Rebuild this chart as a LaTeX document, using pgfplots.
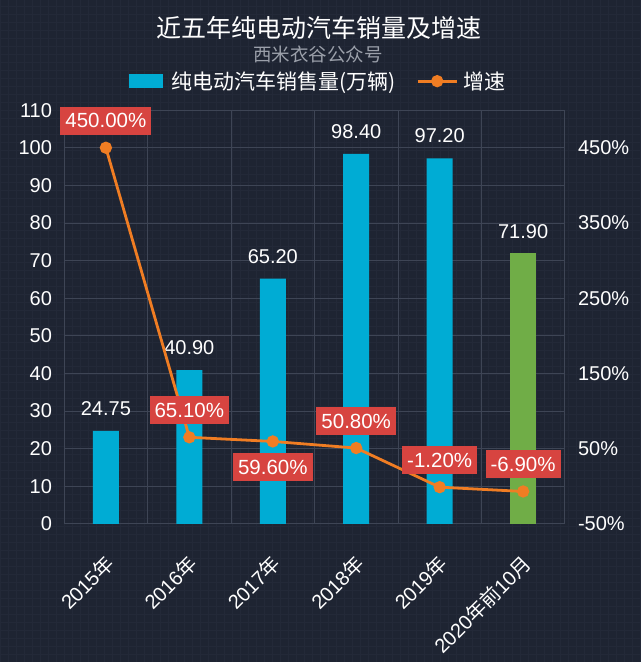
\documentclass[border=0pt]{standalone}
\usepackage{pgfplots}
\pgfplotsset{compat=1.18}
\usepackage{fontspec}
\setmainfont{Liberation Sans}
\newfontfamily\cjk{Noto Sans CJK SC}

\definecolor{bg}{RGB}{30,36,50}
\definecolor{bgline}{RGB}{35,41,56}
\definecolor{gridc}{RGB}{62,69,85}
\definecolor{barblue}{RGB}{0,172,212}
\definecolor{bargreen}{RGB}{112,173,71}
\definecolor{lineorange}{RGB}{240,125,35}
\definecolor{boxred}{RGB}{215,68,64}
\definecolor{subgray}{RGB}{155,160,170}

\newcommand\fs[1]{\fontsize{#1}{#1}\selectfont}

\begin{document}
\begin{tikzpicture}[x=1pt,y=1pt]
% page background, with the faint texture of the original
\fill[bg] (0,0) rectangle (640,662);
\draw[bgline, line width=0.4pt, step=8] (0,0) grid (640,662);
\path[use as bounding box] (0,0) rectangle (640,662);

\node[white, font=\cjk\fs{25}] at (319,634) {近五年纯电动汽车销量及增速};
\node[subgray, font=\cjk\fs{18.5}] at (318,608) {西米衣谷公众号};

% left axis: sales in 10k vehicles
\begin{axis}[
  at={(64pt,138pt)}, anchor=south west,
  scale only axis, width=501pt, height=414pt,
  xmin=-0.5, xmax=5.5, ymin=0, ymax=110,
  xtick={0,...,5},
  xticklabels={2015{\cjk 年},2016{\cjk 年},2017{\cjk 年},2018{\cjk 年},2019{\cjk 年},2020{\cjk 年前}10{\cjk 月}},
  minor xtick={0.5,1.5,2.5,3.5,4.5},
  ytick={0,10,...,110},
  xminorgrids, ymajorgrids,
  grid style={gridc, line width=0.8pt},
  minor grid style={gridc, line width=0.8pt},
  axis line style={gridc, line width=0.8pt},
  tick style={draw=none},
  /pgf/number format/assume math mode=true,
  ticklabel style={white, font=\fs{20}},
  yticklabel style={anchor=east, inner sep=0pt, xshift=-12pt},
  xticklabel style={font=\fs{20}, inner sep=0pt, yshift=-36pt, xshift=4pt, rotate=45, anchor=east},
  clip=false,
  nodes near coords style={white, font=\fs{20}, anchor=south, inner sep=0pt, yshift=15pt},
]
\addplot[ybar, bar width=26pt, bar shift=0pt, fill=barblue, draw=none,
  nodes near coords={\pgfmathprintnumber[fixed,fixed zerofill,precision=2]{\pgfplotspointmeta}}]
  coordinates {(0,24.75) (1,40.9) (2,65.2) (3,98.4) (4,97.2)};
\addplot[ybar, bar width=26pt, bar shift=0pt, fill=bargreen, draw=none,
  nodes near coords={\pgfmathprintnumber[fixed,fixed zerofill,precision=2]{\pgfplotspointmeta}}]
  coordinates {(5,71.9)};
\end{axis}

% right axis: growth rate in %
\begin{axis}[
  at={(64pt,138pt)}, anchor=south west,
  scale only axis, width=501pt, height=414pt,
  xmin=-0.5, xmax=5.5, ymin=-50, ymax=500,
  axis x line=none, axis y line*=right,
  axis line style={draw=none},
  ytick={-50,50,...,450},
  yticklabel={\pgfmathprintnumber{\tick}\%},
  tick style={draw=none},
  /pgf/number format/assume math mode=true,
  yticklabel style={white, font=\fs{20}, anchor=west, inner sep=0pt, xshift=13pt},
  clip=false,
  legend columns=2,
  legend style={at={(axis description cs:0.5,1)}, anchor=center, yshift=29pt, xshift=2.5pt,
    draw=none, fill=none, text=white, font=\cjk\fs{21},
    nodes={inner sep=0pt},
    /tikz/column 1/.style={column sep=9pt},
    /tikz/column 2/.style={column sep=21pt},
    /tikz/column 3/.style={column sep=5pt}},
]
\addlegendimage{legend image code/.code={\fill[barblue] (0pt,-6.5pt) rectangle (33pt,6.5pt);}}
\addlegendentry{纯电动汽车销售量(万辆)}
\addplot[lineorange, line width=2.8pt, mark=*, mark size=4.7pt,
  mark options={fill=lineorange, draw=none},
  legend image code/.code={\draw[lineorange, line width=2.8pt] (0pt,0pt) -- (39pt,0pt);
    \fill[lineorange] (19.5pt,0pt) circle (4.7pt);}]
  coordinates {(0,450) (1,65.1) (2,59.6) (3,50.8) (4,-1.2) (5,-6.9)};
\addlegendentry{增速}

\addplot[draw=none, mark=none, forget plot,
  nodes near coords={\pgfmathprintnumber[fixed,fixed zerofill,precision=2]{\pgfplotspointmeta}\%},
  nodes near coords style={fill=boxred, text=white, font=\fs{20.5}, anchor=center,
    inner xsep=5pt, inner ysep=6pt, text height=15pt, text depth=1pt, yshift=27pt}]
  coordinates {(0,450) (1,65.1) (3,50.8) (4,-1.2) (5,-6.9)};
\addplot[draw=none, mark=none, forget plot,
  nodes near coords={\pgfmathprintnumber[fixed,fixed zerofill,precision=2]{\pgfplotspointmeta}\%},
  nodes near coords style={fill=boxred, text=white, font=\fs{20.5}, anchor=center,
    inner xsep=5pt, inner ysep=6pt, text height=15pt, text depth=1pt, yshift=-26pt}]
  coordinates {(2,59.6)};
\end{axis}
\end{tikzpicture}
\end{document}
